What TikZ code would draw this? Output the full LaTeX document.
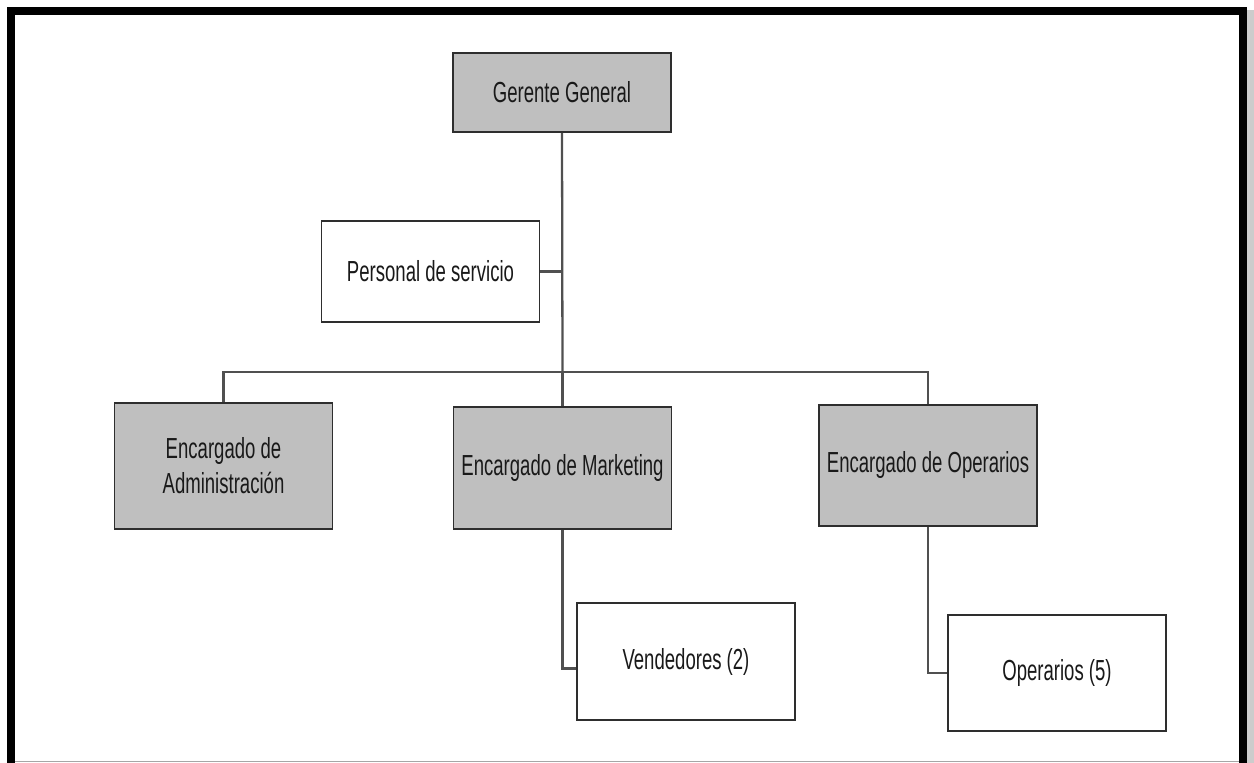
\documentclass[tikz,border=0pt]{standalone}
\usepackage{fontspec}
\setmainfont{Liberation Sans}[FakeStretch=0.64]
\usetikzlibrary{positioning,calc}
\definecolor{relleno}{HTML}{BFBFBF}
\definecolor{borde}{HTML}{2E2E2E}
\definecolor{lin}{HTML}{505050}
\tikzset{
  caja/.style={draw=borde,line width=1.1pt,fill=white,minimum width=4.36cm,
    inner sep=2pt,align=center,text=black!90,font=\fontsize{16.5}{20}\selectfont},
  jefe/.style={caja,fill=relleno},
  linea/.style={draw=lin,line width=1.3pt},
  marco/.style={line width=0.16cm,black},
}

\begin{document}
\begin{tikzpicture}[x=0.02cm,y=-0.02cm]
  \useasboundingbox (0,0) rectangle (1254,763);
  % marco exterior
  \draw[gray!40,line width=0.2cm] (1249,10) -- (1249,763);
  \draw[marco] (11,763) -- (11,11) -- (1243,11) -- (1243,763);
  \draw[gray!70,line width=0.5pt] (15,761) -- (1239,761);
  % nodos
  \node[jefe,minimum height=1.58cm] (gerente) at (562,92.5) {Gerente General};
  \node[caja,minimum height=2.02cm] (personal) at (430.5,271.5) {Personal de servicio};
  \node[jefe,minimum height=2.52cm] (admin) at (223.5,466) {Encargado de\\ Administración};
  \node[jefe,minimum height=2.44cm] (mkt) at (562.5,468) {Encargado de Marketing};
  \node[jefe,minimum height=2.42cm] (oper) at (928,465.5) {Encargado de Operarios};
  \node[caja,minimum height=2.34cm] (vend) at (686,661.5) {Vendedores (2)};
  \node[caja,minimum height=2.32cm] (operarios) at (1057,673) {Operarios (5)};
  \coordinate (barra) at (562.5,372);
  % conectores
  \draw[linea] (gerente.south) -- (barra);
  \draw[linea] (personal.east) -- (personal.east -| barra);
  \draw[linea] (admin.north) |- (barra) -| (oper.north);
  \draw[linea] (barra) -- (mkt.north);
  \draw[linea] (mkt.south) |- ($(vend.west)+(0,7)$);
  \draw[linea] (oper.south) |- (operarios.west);
\end{tikzpicture}
\end{document}
